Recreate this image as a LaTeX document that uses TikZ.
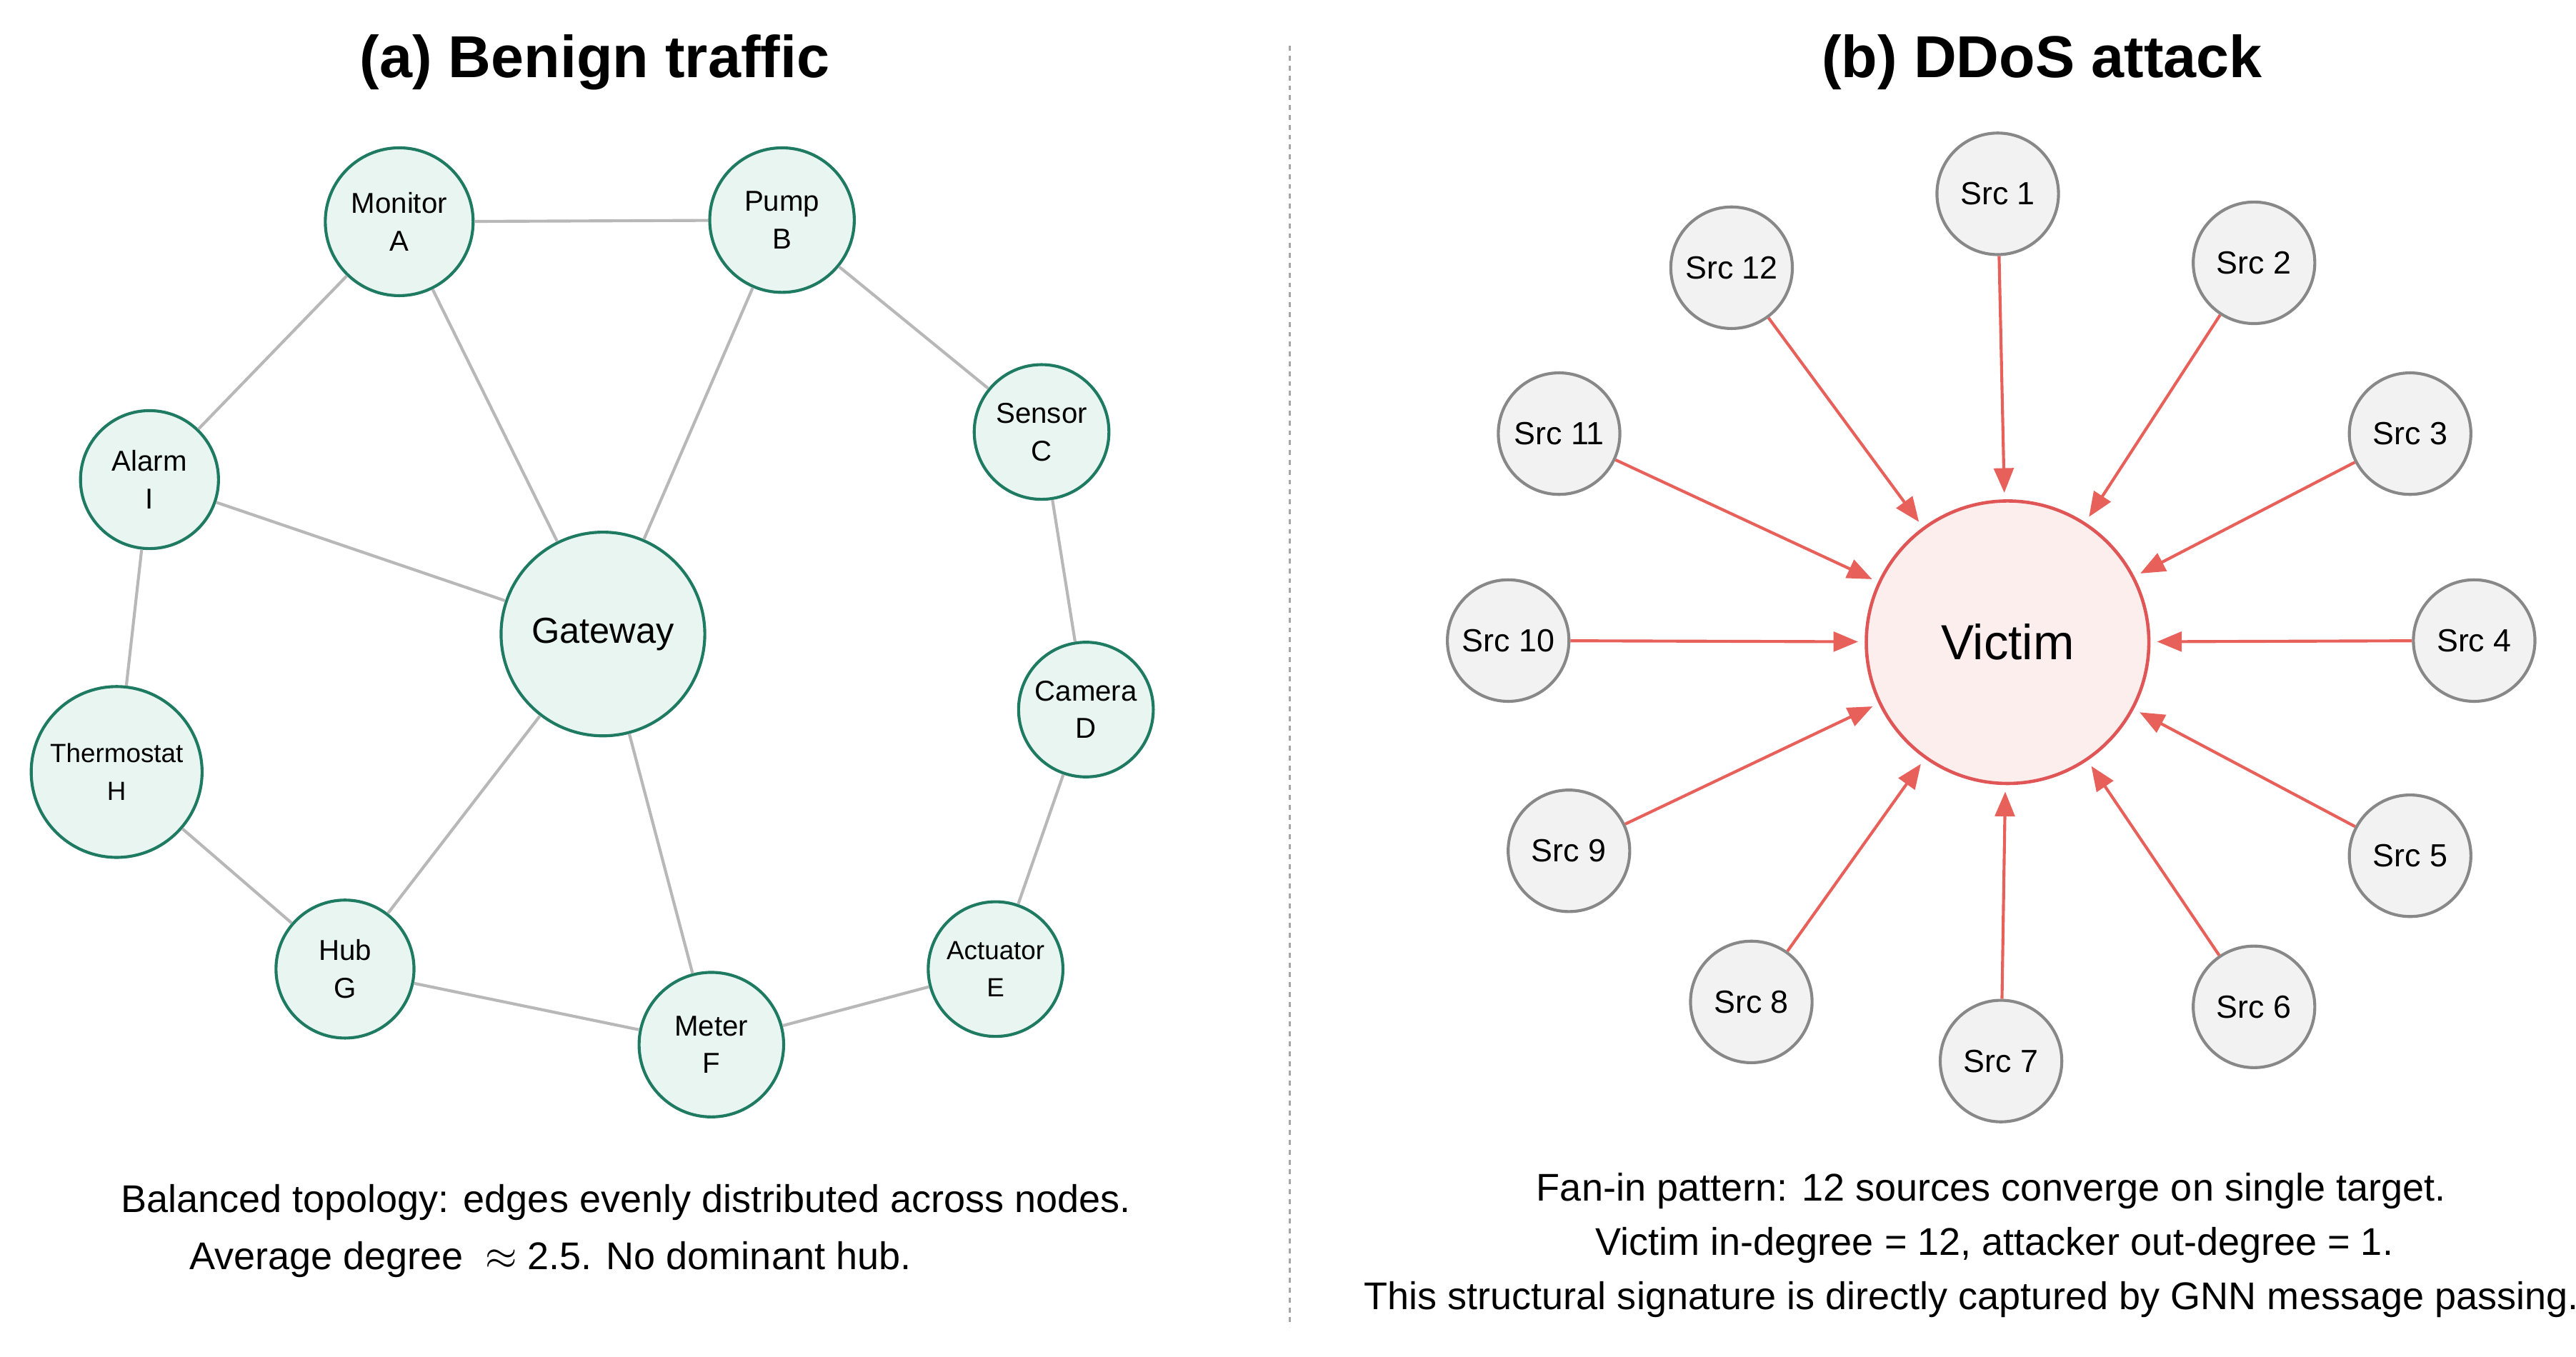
\documentclass[tikz,border=0pt]{standalone}
\usepackage{fontspec}
\setmainfont{Liberation Sans}
\usetikzlibrary{arrows.meta}
\definecolor{gfill}{HTML}{E8F5F1}
\definecolor{gdraw}{HTML}{1E7A60}
\definecolor{edgec}{HTML}{B8B8B8}
\definecolor{vfill}{HTML}{FDEEEE}
\definecolor{vdraw}{HTML}{E05555}
\definecolor{sfill}{HTML}{F2F2F2}
\definecolor{sdraw}{HTML}{888888}
\definecolor{arr}{HTML}{E8605A}
\begin{document}
\begin{tikzpicture}[x=1pt,y=-1pt,
 gn/.style={circle,draw=gdraw,fill=gfill,line width=1.8pt,inner sep=0pt,align=center,font=\fontsize{17.5}{23}\selectfont},
 sn/.style={circle,draw=sdraw,fill=sfill,line width=1.8pt,minimum size=74pt,inner sep=0pt,font=\fontsize{19.5}{22}\selectfont},
 ge/.style={draw=edgec,line width=1.8pt},
 ae/.style={draw=arr,line width=1.8pt,-{Triangle[length=15pt,width=12pt]},shorten >=4pt},
 captxt/.style={font=\fontsize{23.5}{28}\selectfont},
 ttl/.style={font=\bfseries\fontsize{36}{42}\selectfont}]
\fill[white] (0,0) rectangle (1568,826);
\useasboundingbox (0,0) rectangle (1568,826);
\node[ttl] (ta) at (362,38) {(a) Benign traffic};
\node[ttl] (tb) at (1243,38) {(b) DDoS attack};
\draw[gray!70,dashed,line width=1.2pt] (785,28) -- (785,808);
% left
\node[gn,minimum size=90pt] (A) at (243,135) {Monitor\\A};
\node[gn,minimum size=88pt] (B) at (476,134) {Pump\\B};
\node[gn,minimum size=82pt] (C) at (634,263) {Sensor\\C};
\node[gn,minimum size=82pt] (D) at (661,432) {Camera\\D};
\node[gn,minimum size=82pt,font=\fontsize{16}{23}\selectfont] (E) at (606,590) {Actuator\\E};
\node[gn,minimum size=88pt] (F) at (433,636) {Meter\\F};
\node[gn,minimum size=84pt] (G) at (210,590) {Hub\\G};
\node[gn,minimum size=104pt,font=\fontsize{16}{23}\selectfont] (H) at (71,470) {Thermostat\\H};
\node[gn,minimum size=84pt] (I) at (91,292) {Alarm\\I};
\node[gn,minimum size=124pt,font=\fontsize{22}{26}\selectfont] (W) at (367,386) {Gateway};
\foreach \a/\b in {A/B,A/I,A/W,B/W,B/C,C/D,D/E,E/F,F/G,G/H,H/I,I/W,W/G,W/F}
  \path[ge] (\a) -- (\b);
\node[captxt] (c1) at (381,732) {Balanced topology: edges evenly distributed across nodes.};
\node[captxt] (c2) at (335,767) {Average degree \ $\approx$ 2.5. No dominant hub.};
% right
\node[circle,draw=vdraw,fill=vfill,line width=2pt,minimum size=172pt,font=\fontsize{30}{34}\selectfont] (V) at (1222,391) {Victim};
\foreach \n/\x/\y in {1/1216/118,2/1372/160,3/1467/264,4/1506/390,5/1467/521,6/1372/613,7/1218/646,8/1066/610,9/955/518,10/918/390,11/949/264,12/1054/163}{
  \node[sn] (s\n) at (\x,\y) {Src \n};
  \path[ae] (s\n) -- (V);
}
\node[captxt] (c3) at (1212,725) {Fan-in pattern: 12 sources converge on single target.};
\node[captxt] (c4) at (1214,758) {Victim in-degree = 12, attacker out-degree = 1.};
\node[captxt] (c5) at (1200,791) {This structural signature is directly captured by GNN message passing.};
\end{tikzpicture}
\end{document}
